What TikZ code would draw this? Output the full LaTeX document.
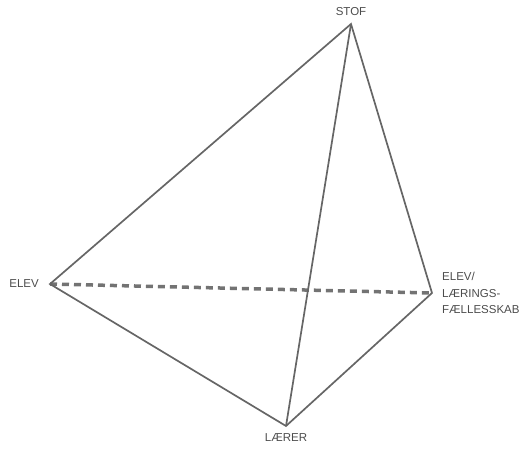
\documentclass[tikz,border=0pt]{standalone}
\usepackage{fontspec}
\setmainfont{Liberation Sans}
\begin{document}
\begin{tikzpicture}[x=1pt,y=1pt,
  edge/.style={draw=black!60, line width=1.7pt, line join=miter},
  hidden/.style={draw=black!55, line width=3.5pt, dash pattern=on 7pt off 5pt},
  lbl/.style={text=black!70, font=\fontsize{11.5}{16.5}\selectfont, inner sep=0pt}]
\useasboundingbox (0,0) rectangle (528,453);
\coordinate (S) at (351,429);
\coordinate (E) at (50,169);
\coordinate (L) at (286,27);
\coordinate (R) at (432,160);
\draw[hidden] (E) -- (R);
\draw[edge] (S) -- (E) -- (L) -- (R) -- cycle;
\draw[edge] (S) -- (L);
\node[lbl] (tS) at (351,441) {STOF};
\node[lbl, anchor=east] (tE) at (39,169) {ELEV};
\node[lbl] (tL) at (286,15) {LÆRER};
\node[lbl, anchor=west, align=left] (tR) at (442,160) {ELEV/\\LÆRINGS-\\FÆLLESSKAB};
\end{tikzpicture}
\end{document}
